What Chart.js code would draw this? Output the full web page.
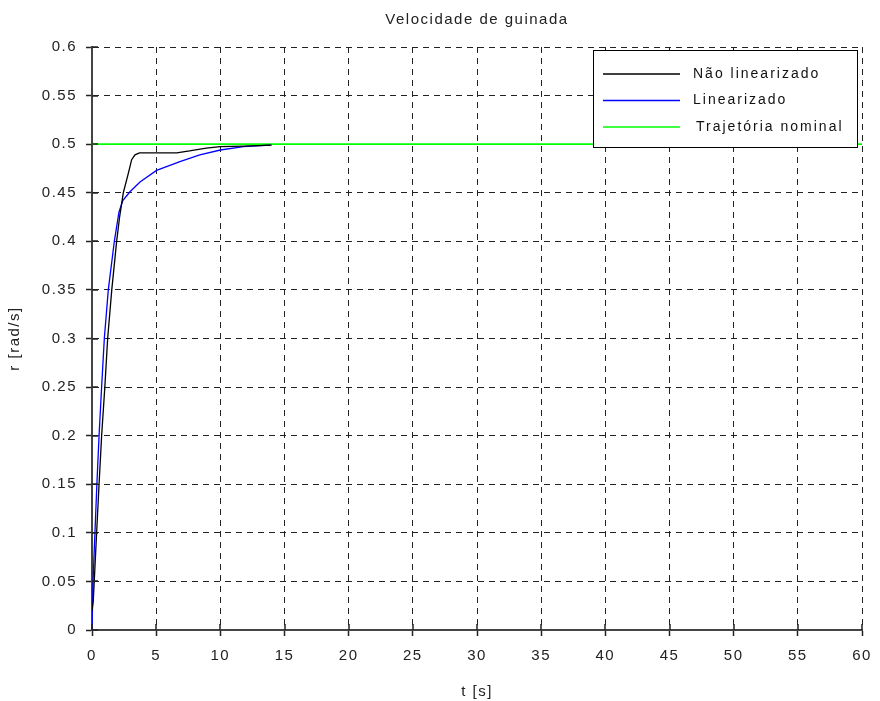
<!DOCTYPE html>
<html>
<head>
<meta charset="utf-8">
<script src="https://cdn.jsdelivr.net/npm/chart.js@4/dist/chart.umd.min.js"></script>
<style>
  html, body { margin: 0; padding: 0; background: #fff; }
  #wrap { width: 880px; height: 701px; }
</style>
</head>
<body>
<div id="wrap"><canvas id="grafico" width="880" height="701"></canvas></div>
<script>
const tempoNaoLin = [0, 0.1, 0.36, 0.55, 0.75, 1.0, 1.22, 1.54, 1.92, 2.15, 2.44, 2.83, 3.09, 3.35, 3.7, 6.6, 7.6, 8.9, 10, 11.8, 14];
const rNaoLin = [0.02, 0.03, 0.1, 0.15, 0.2, 0.25, 0.3, 0.35, 0.4, 0.425, 0.45, 0.47, 0.484, 0.489, 0.491, 0.491, 0.493, 0.496, 0.4975, 0.498, 0.499];
const tempoLin = [0, 0.08, 0.23, 0.38, 0.55, 0.75, 0.96, 1.27, 1.74, 2.1, 2.4, 2.96, 3.74, 5.03, 6.85, 8.4, 10, 11.8, 13.9];
const rLin = [0, 0.05, 0.1, 0.15, 0.2, 0.25, 0.3, 0.35, 0.4, 0.43, 0.442, 0.451, 0.461, 0.473, 0.482, 0.489, 0.494, 0.4975, 0.499];
const tempoNominal = [0, 60];
const rNominal = [0.5, 0.5];
const xTicks = [0, 5, 10, 15, 20, 25, 30, 35, 40, 45, 50, 55, 60];
const yTicks = [0, 0.05, 0.1, 0.15, 0.2, 0.25, 0.3, 0.35, 0.4, 0.45, 0.5, 0.55, 0.6];
const legendas = ['Não linearizado', 'Linearizado', 'Trajetória nominal'];

const pares = (xs, ys) => xs.map((x, i) => ({x: x, y: ys[i]}));
const fonte = {family: 'Liberation Sans', size: 15};
const corTexto = '#222';

// espaçamento entre letras, como no gráfico original
const espacamento = {
  id: 'espacamento',
  beforeLayout(chart) { chart.ctx.letterSpacing = '1.5px'; },
  beforeDraw(chart) { chart.ctx.letterSpacing = '1.5px'; }
};

// marcas dos ticks para dentro da área do gráfico
const marcasInternas = {
  id: 'marcasInternas',
  afterDraw(chart) {
    const c = chart.ctx;
    const sx = chart.scales.x, sy = chart.scales.y;
    c.save();
    c.strokeStyle = '#222';
    c.lineWidth = 1.5;
    c.beginPath();
    xTicks.forEach(v => {
      const px = Math.round(sx.getPixelForValue(v));
      c.moveTo(px, sy.bottom); c.lineTo(px, sy.bottom - 6);
    });
    yTicks.forEach(v => {
      const py = Math.round(sy.getPixelForValue(v));
      c.moveTo(sx.left, py); c.lineTo(sx.left + 6, py);
    });
    c.stroke();
    c.restore();
  }
};

// legenda dentro da área, canto superior direito
const legendaCaixa = {
  id: 'legendaCaixa',
  afterDraw(chart) {
    const c = chart.ctx;
    const area = chart.chartArea;
    const x0 = area.right - 269, y0 = area.top + 3, w = 264, h = 97;
    c.save();
    c.fillStyle = '#fff';
    c.fillRect(x0, y0, w, h);
    c.strokeStyle = '#000';
    c.lineWidth = 1;
    c.strokeRect(x0 + 0.5, y0 + 0.5, w, h);
    c.font = '14px "Liberation Sans"';
    c.letterSpacing = '2px';
    c.textBaseline = 'middle';
    chart.data.datasets.forEach((ds, i) => {
      const yy = y0 + 24 + i * 26.5;
      c.strokeStyle = ds.borderColor;
      c.lineWidth = 1.5;
      c.beginPath();
      c.moveTo(x0 + 10, yy); c.lineTo(x0 + 87, yy);
      c.stroke();
      c.fillStyle = '#111';
      c.fillText(legendas[i], x0 + 100 + (i === 2 ? 3 : 0), yy);
    });
    c.restore();
  }
};

const config = {
  type: 'line',
  data: {
    datasets: [{
      label: legendas[0],
      data: pares(tempoNaoLin, rNaoLin),
      borderColor: '#000000',
      borderWidth: 1.3
    }, {
      label: legendas[1],
      data: pares(tempoLin, rLin),
      borderColor: '#0000ff',
      borderWidth: 1.3
    }, {
      label: legendas[2],
      data: pares(tempoNominal, rNominal),
      borderColor: '#00ff00',
      borderWidth: 1.6
    }]
  },
  plugins: [espacamento, marcasInternas, legendaCaixa],
  options: {
    responsive: false,
    animation: false,
    elements: { point: { radius: 0 }, line: { tension: 0 } },
    layout: { padding: { left: 0, right: 18, top: 0, bottom: 0 } },
    plugins: {
      legend: { display: false },
      tooltip: { enabled: false },
      title: {
        display: true,
        fullSize: false,
        text: 'Velocidade de guinada',
        color: corTexto,
        font: { family: 'Liberation Sans', size: 15, weight: 'normal' },
        padding: { top: 11, bottom: 18 }
      }
    },
    scales: {
      x: {
        type: 'linear',
        min: 0,
        max: 60,
        afterBuildTicks: s => { s.ticks = xTicks.map(v => ({value: v})); },
        afterFit: s => { s.height = 71; s.paddingRight = 12; s.paddingLeft = 0; },
        ticks: { color: corTexto, font: fonte, padding: 11, maxRotation: 0,
                 callback: v => String(v) },
        grid: { color: '#222', tickLength: 6, tickBorderDash: [], tickColor: '#222', tickWidth: 1.5 },
        border: { display: true, color: '#444', width: 2, dash: [6, 5] },
        title: { display: true, text: 't [s]', color: corTexto, font: fonte, padding: { top: 0, bottom: 0 } }
      },
      y: {
        type: 'linear',
        min: 0,
        max: 0.6,
        afterBuildTicks: s => { s.ticks = yTicks.map(v => ({value: v})); },
        afterFit: s => { s.width = 92; },
        ticks: { color: corTexto, font: fonte, padding: 9,
                 callback: v => String(+v.toFixed(2)) },
        grid: { color: '#222', tickLength: 6, tickBorderDash: [], tickColor: '#222', tickWidth: 1.5 },
        border: { display: true, color: '#444', width: 2, dash: [6, 5] },
        title: { display: true, text: 'r [rad/s]', color: corTexto, font: fonte, padding: { top: 6, bottom: 0 } }
      }
    }
  }
};

const ctx = document.getElementById('grafico').getContext('2d');
new Chart(ctx, config);
</script>
</body>
</html>
